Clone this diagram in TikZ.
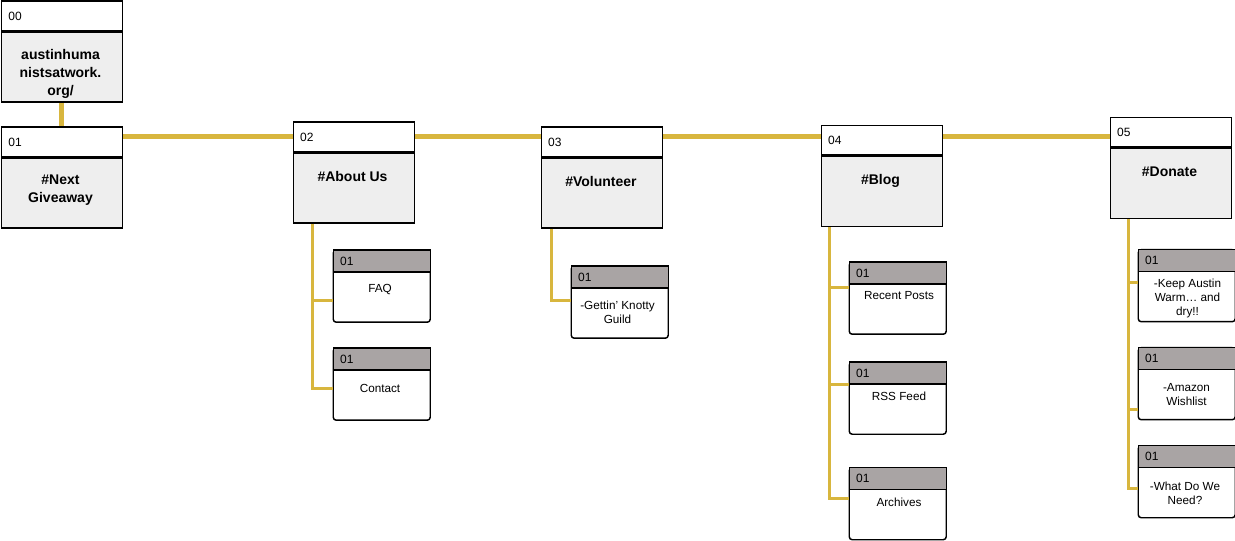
\documentclass[tikz,border=0pt]{standalone}
\usepackage{fontspec}
\setmainfont{Liberation Sans}
\definecolor{gold}{HTML}{D8B63E}
\definecolor{boxgray}{HTML}{EEEEEE}
\definecolor{chgray}{HTML}{A9A4A4}
\tikzset{
  hdr/.style={draw=black, line width=1.1pt, fill=white, anchor=north west, minimum height=22.1pt, inner xsep=5.25pt, inner ysep=0pt, text width=80.25pt, align=left, font=\fontsize{9}{10}\selectfont},
  bodybox/.style={draw=black, line width=1.1pt, fill=boxgray, anchor=north, minimum width=90.75pt, minimum height=52.5pt, inner sep=0pt},
  ttl/.style={font=\bfseries\fontsize{10.5}{13.5}\selectfont, align=center, inner sep=0pt},
  child/.style={draw=black, line width=1.1pt, fill=white, rounded corners=2.25pt, anchor=north west, minimum width=72.75pt, minimum height=54pt, inner sep=0pt},
  chdr/.style={draw=black, line width=1.1pt, fill=chgray, anchor=north west, minimum height=16.5pt, inner xsep=5.25pt, inner ysep=0pt, text width=62.25pt, align=left, font=\fontsize{9}{10}\selectfont},
  ctxt/.style={font=\fontsize{8.8}{10.5}\selectfont, align=center, inner sep=0pt},
  spineline/.style={draw=gold, line width=3.75pt},
  branch/.style={draw=gold, line width=2.25pt},
}
\begin{document}
\begin{tikzpicture}[x=0.75pt,y=-0.75pt]
\useasboundingbox (0,0) rectangle (1235,541);
\coordinate (spine) at (0,137);
% main boxes
\node[hdr] (h0) at (0.7,0.5) {00};
\node[bodybox] (b0) at (h0.south) {};
\node[ttl] (t0) at (60.5,73.5) {austinhuma\\nistsatwork.\\org/};
\node[hdr] (h1) at (0.7,126.5) {01};
\node[bodybox] (b1) at (h1.south) {};
\node[ttl] (t1) at (60.5,190) {\#Next\\Giveaway};
\node[hdr] (h2) at (292.5,121.5) {02};
\node[bodybox] (b2) at (h2.south) {};
\node[ttl] (t2) at (352.5,176) {\#About Us};
\node[hdr] (h3) at (540.5,126.5) {03};
\node[bodybox] (b3) at (h3.south) {};
\node[ttl] (t3) at (601,181) {\#Volunteer};
\node[hdr] (h4) at (820.5,125) {04};
\node[bodybox] (b4) at (h4.south) {};
\node[ttl] (t4) at (880.5,180.5) {\#Blog};
\node[hdr] (h5) at (1109.5,117) {05};
\node[bodybox] (b5) at (h5.south) {};
\node[ttl] (t5) at (1169.5,172) {\#Donate};
% children
\node[child] (c21) at (332.5,249.5) {};
\node[chdr] (ch21) at (c21.north west) {01};
\node[ctxt] (x21) at (380,290) {FAQ};
\node[child] (c22) at (332.5,347.5) {};
\node[chdr] (ch22) at (c22.north west) {01};
\node[ctxt] (x22) at (380,388) {Contact};
\node[child] (c31) at (570.5,265.5) {};
\node[chdr] (ch31) at (c31.north west) {01};
\node[ctxt] (x31) at (617.5,312.5) {-Gettin’ Knotty\\Guild};
\node[child] (c41) at (848.5,261.5) {};
\node[chdr] (ch41) at (c41.north west) {01};
\node[ctxt] (x41) at (899,296) {Recent Posts};
\node[child] (c42) at (848.5,361.5) {};
\node[chdr] (ch42) at (c42.north west) {01};
\node[ctxt] (x42) at (899,396) {RSS Feed};
\node[child] (c43) at (848.5,467) {};
\node[chdr] (ch43) at (c43.north west) {01};
\node[ctxt] (x43) at (899,502) {Archives};
\node[child] (c51) at (1137.5,249) {};
\node[chdr] (ch51) at (c51.north west) {01};
\node[ctxt] (x51) at (1187.5,298) {-Keep Austin\\Warm… and\\dry!!};
\node[child] (c52) at (1137.5,347) {};
\node[chdr] (ch52) at (c52.north west) {01};
\node[ctxt] (x52) at (1186.5,395) {-Amazon\\Wishlist};
\node[child] (c53) at (1137.5,445) {};
\node[chdr] (ch53) at (c53.north west) {01};
\node[ctxt] (x53) at (1185,493) {-What Do We\\Need?};
% connectors
\draw[spineline] (b0.south) -- (h1.north);
\draw[spineline] (h1.east |- spine) -- (h2.west |- spine);
\draw[spineline] (h2.east |- spine) -- (h3.west |- spine);
\draw[spineline] (h3.east |- spine) -- (h4.west |- spine);
\draw[spineline] (h4.east |- spine) -- (h5.west |- spine);
\draw[branch] ([xshift=15pt]b2.south west) |- ([yshift=-10.9pt]c21.west);
\draw[branch] ([xshift=15pt]b2.south west) |- ([yshift=-3.4pt]c22.west);
\draw[branch] ([xshift=7.9pt]b3.south west) |- ([yshift=1.5pt]c31.west);
\draw[branch] ([xshift=6.75pt]b4.south west) |- ([yshift=7.9pt]c41.west);
\draw[branch] ([xshift=6.75pt]b4.south west) |- ([yshift=10.5pt]c42.west);
\draw[branch] ([xshift=6.75pt]b4.south west) |- ([yshift=3.75pt]c43.west);
\draw[branch] ([xshift=14.25pt]b5.south west) |- ([yshift=2.6pt]c51.west);
\draw[branch] ([xshift=14.25pt]b5.south west) |- ([yshift=-19.1pt]c52.west);
\draw[branch] ([xshift=14.25pt]b5.south west) |- ([yshift=-4.9pt]c53.west);
\end{tikzpicture}
\end{document}
